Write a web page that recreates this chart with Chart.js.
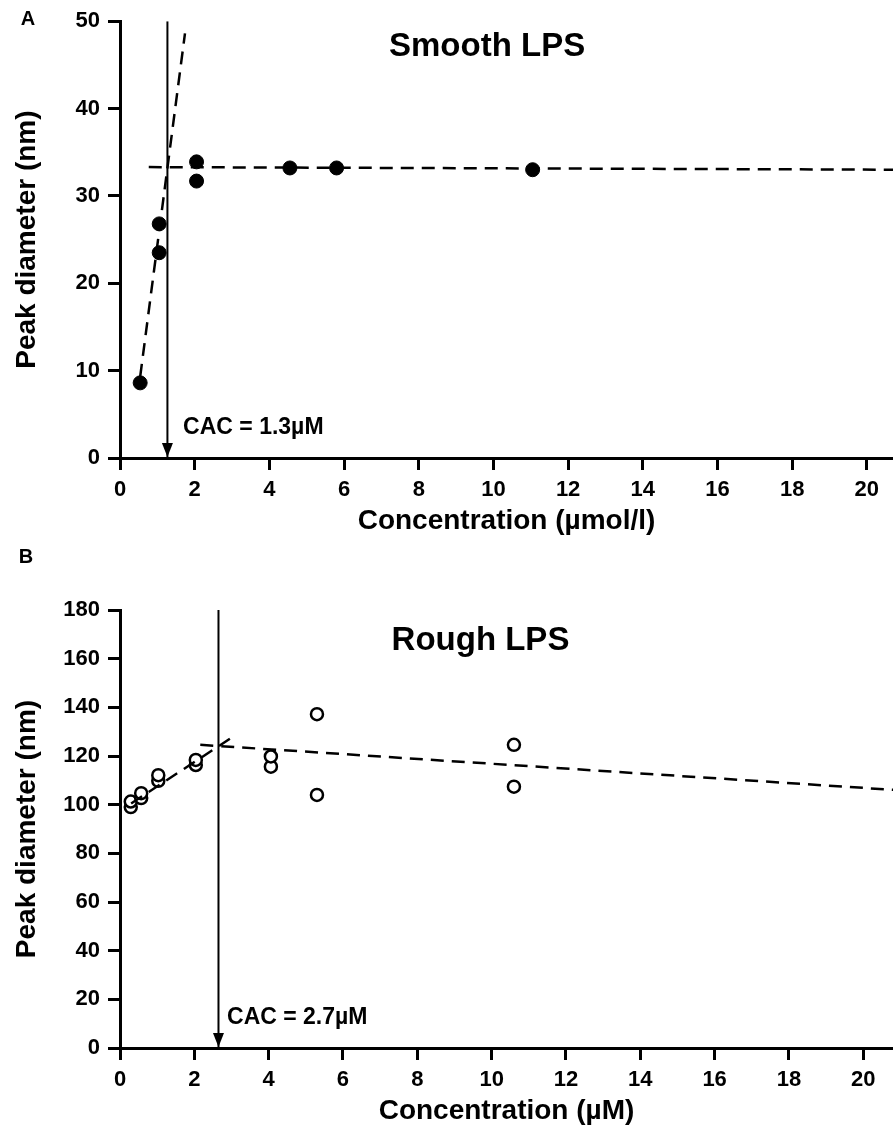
<!DOCTYPE html>
<html lang="en">
<head>
<meta charset="UTF-8">
<title>Peak diameter vs concentration</title>
<script src="https://cdn.jsdelivr.net/npm/chart.js"></script>
<style>
  body { margin: 0; background: #fff; }
  #wrap { position: relative; width: 893px; height: 1128px; }
  canvas { position: absolute; left: 0; }
</style>
</head>
<body>
<div id="wrap">
  <canvas id="smoothChart" width="893" height="540" style="top:0"></canvas>
  <canvas id="roughChart" width="893" height="588" style="top:540px"></canvas>
</div>
<script>
// Panel A - smooth LPS (µmol/l vs nm)
const smoothConc = [0.54, 1.05, 1.05, 2.05, 2.05, 4.55, 5.8, 11.05];
const smoothDiam = [8.6, 26.8, 23.5, 33.9, 31.7, 33.2, 33.2, 33.0];
const smoothRiseX = [0.54, 1.74];
const smoothRiseY = [9.3, 48.6];
const smoothFlatX = [0.77, 20.8];
const smoothFlatY = [33.3, 33.0];
const smoothCAC = 1.27;

// Panel B - rough LPS
const roughConc = [0.29, 0.29, 0.57, 0.57, 1.03, 1.03, 2.04, 2.04, 4.06, 4.06, 5.3, 5.3, 10.6, 10.6];
const roughDiam = [99, 101.3, 102.7, 104.7, 109.8, 112.1, 116.3, 118.4, 115.6, 119.8, 137.2, 104.0, 124.6, 107.4];
const roughRiseX = [0.3, 3.05];
const roughRiseY = [100.5, 128];
const roughFallX = [2.16, 20.9];
const roughFallY = [124.6, 106.0];
const roughCAC = 2.65;

const FONT = '"Liberation Sans", Arial, sans-serif';

function pts(xs, ys) { return xs.map((x, i) => ({ x: x, y: ys[i] })); }

// arrow head, title and CAC label
const panelText = {
  id: 'panelText',
  afterDatasetsDraw(chart, args, o) {
    const { ctx, scales: { x, y } } = chart;
    ctx.save();
    const ax = x.getPixelForValue(o.cac), ay = y.getPixelForValue(0);
    ctx.fillStyle = '#000';
    ctx.beginPath();
    ctx.moveTo(ax, ay - 1);
    ctx.lineTo(ax - 5.5, ay - 15);
    ctx.lineTo(ax + 5.5, ay - 15);
    ctx.closePath();
    ctx.fill();

    ctx.textBaseline = 'middle';
    ctx.textAlign = 'center';
    ctx.font = 'bold 33px ' + FONT;
    ctx.fillText(o.title, x.getPixelForValue(o.titleAt[0]), y.getPixelForValue(o.titleAt[1]));

    ctx.textAlign = 'left';
    ctx.font = 'bold 23px ' + FONT;
    ctx.fillText(o.cacText, x.getPixelForValue(o.cacTextAt[0]), y.getPixelForValue(o.cacTextAt[1]));

    ctx.textAlign = 'center';
    ctx.font = 'bold 20px ' + FONT;
    ctx.fillText(o.letter, o.letterAt[0], o.letterAt[1]);
    ctx.restore();
  }
};

function axisStyle(extra) {
  return Object.assign({
    type: 'linear',
    border: { display: true, color: '#000', width: 3 },
    grid: { display: true, drawOnChartArea: false, drawTicks: true, tickLength: 12, lineWidth: 3, color: '#000' }
  }, extra);
}

function makeChart(id, cfg) {
  return new Chart(document.getElementById(id), {
    type: 'scatter',
    data: {
      datasets: [
        {
          data: pts(cfg.lineAX, cfg.lineAY), showLine: true, pointRadius: 0,
          borderColor: '#000', borderWidth: 2.5, borderDash: [13, 8]
        },
        {
          data: pts(cfg.lineBX, cfg.lineBY), showLine: true, pointRadius: 0,
          borderColor: '#000', borderWidth: 2.5, borderDash: [13, 8]
        },
        {
          data: [{ x: cfg.cac, y: 0 }, { x: cfg.cac, y: cfg.yMax }], showLine: true, pointRadius: 0,
          borderColor: '#000', borderWidth: 2
        },
        {
          data: pts(cfg.xs, cfg.ys), pointRadius: cfg.radius, pointHoverRadius: cfg.radius,
          pointBackgroundColor: cfg.filled ? '#000' : '#fff',
          pointBorderColor: '#000', pointBorderWidth: cfg.filled ? 1 : 2.5
        }
      ]
    },
    options: {
      responsive: false,
      animation: false,
      events: [],
      layout: { autoPadding: false, padding: { top: cfg.padTop, right: 0, left: 0, bottom: 0 } },
      plugins: {
        legend: { display: false },
        tooltip: { enabled: false },
        panelText: cfg.text
      },
      scales: {
        x: axisStyle({
          min: 0, max: cfg.xMax,
          afterFit(s) { s.height = cfg.xAxisH; s.paddingLeft = 0; s.paddingRight = 0; },
          ticks: { stepSize: 2, includeBounds: false, padding: 7, color: '#000', font: { family: FONT, size: 22, weight: 'bold' } },
          title: { display: true, text: cfg.xTitle, color: '#000', padding: { top: 0, bottom: cfg.xTitlePad }, font: { family: FONT, size: 28, weight: 'bold' } }
        }),
        y: axisStyle({
          min: 0, max: cfg.yMax,
          afterFit(s) { s.width = 120; },
          ticks: { stepSize: cfg.yStep, padding: 8, color: '#000', font: { family: FONT, size: 22, weight: 'bold' } },
          title: { display: true, text: 'Peak diameter (nm)', color: '#000', padding: { top: 10, bottom: 0 }, font: { family: FONT, size: 28, weight: 'bold' } }
        })
      }
    },
    plugins: [panelText]
  });
}

makeChart('smoothChart', {
  xs: smoothConc, ys: smoothDiam, filled: true, radius: 7,
  lineAX: smoothRiseX, lineAY: smoothRiseY, lineBX: smoothFlatX, lineBY: smoothFlatY,
  cac: smoothCAC, xMax: 20.7, yMax: 50, yStep: 10,
  padTop: 20, xAxisH: 82, xTitlePad: 2,
  xTitle: 'Concentration (µmol/l)',
  text: { cac: smoothCAC, title: 'Smooth LPS', titleAt: [9.83, 47.1], cacText: 'CAC = 1.3µM', cacTextAt: [1.69, 3.5], letter: 'A', letterAt: [28, 19] }
});

makeChart('roughChart', {
  xs: roughConc, ys: roughDiam, filled: false, radius: 6,
  lineAX: roughRiseX, lineAY: roughRiseY, lineBX: roughFallX, lineBY: roughFallY,
  cac: roughCAC, xMax: 20.8, yMax: 180, yStep: 20,
  padTop: 70, xAxisH: 80, xTitlePad: 0,
  xTitle: 'Concentration (µM)',
  text: { cac: roughCAC, title: 'Rough LPS', titleAt: [9.7, 167.3], cacText: 'CAC = 2.7µM', cacTextAt: [2.88, 12.6], letter: 'B', letterAt: [26, 17] }
});
</script>
</body>
</html>
